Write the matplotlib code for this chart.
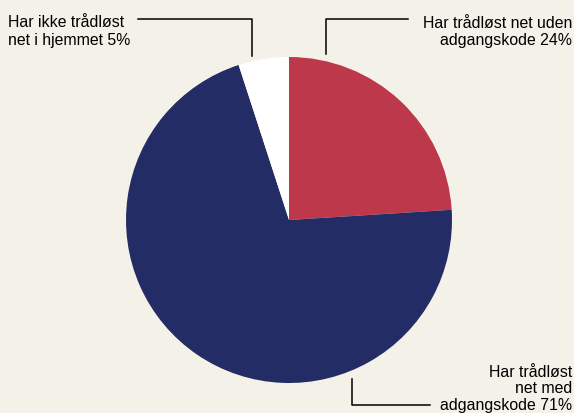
import matplotlib.pyplot as plt
from matplotlib.lines import Line2D

# Data
labels = ["Har trådløst net uden\nadgangskode 24%",
          "Har trådløst\nnet med\nadgangskode 71%",
          "Har ikke trådløst\nnet i hjemmet 5%"]
values = [24, 71, 5]
colors = ["#BE384B", "#242C66", "#FFFFFF"]

BG = "#F4F1E9"
W, H = 574, 414

plt.rcParams['font.family'] = ['Liberation Sans', 'DejaVu Sans']

fig = plt.figure(figsize=(W / 100, H / 100), dpi=100, facecolor=BG)

# pie axes placed in pixel geometry: centre (289,221), radius 163
cx, cy, r = 289, 221, 163
ax = fig.add_axes([(cx - r) / W, (H - cy - r) / H, 2 * r / W, 2 * r / H])
ax.set_facecolor(BG)
ax.pie(values, colors=colors, startangle=90, counterclock=False,
       radius=1, wedgeprops=dict(linewidth=0))
ax.set_xlim(-1, 1)
ax.set_ylim(-1, 1)
ax.set_aspect('equal')
ax.axis('off')


def px(x, y):
    return x / W, 1 - y / H


def leader(points):
    xs, ys = zip(*[px(x, y) for x, y in points])
    fig.add_artist(Line2D(xs, ys, transform=fig.transFigure,
                          color="black", linewidth=1.1))


# leader lines
leader([(138, 20), (252, 20), (252, 57)])
leader([(326, 55), (326, 20), (408, 20)])
leader([(352, 380), (352, 406), (430, 406)])

fs = 11.4
fig.text(*px(8, 31.5), labels[2], ha="left", va="center", fontsize=fs,
         linespacing=1.2)
fig.text(*px(572, 32), labels[0], ha="right", va="center", fontsize=fs,
         linespacing=1.2)
fig.text(*px(572, 389), labels[1], ha="right", va="center", fontsize=fs,
         linespacing=1.1)

fig.savefig("out.png", dpi=100, facecolor=BG)
